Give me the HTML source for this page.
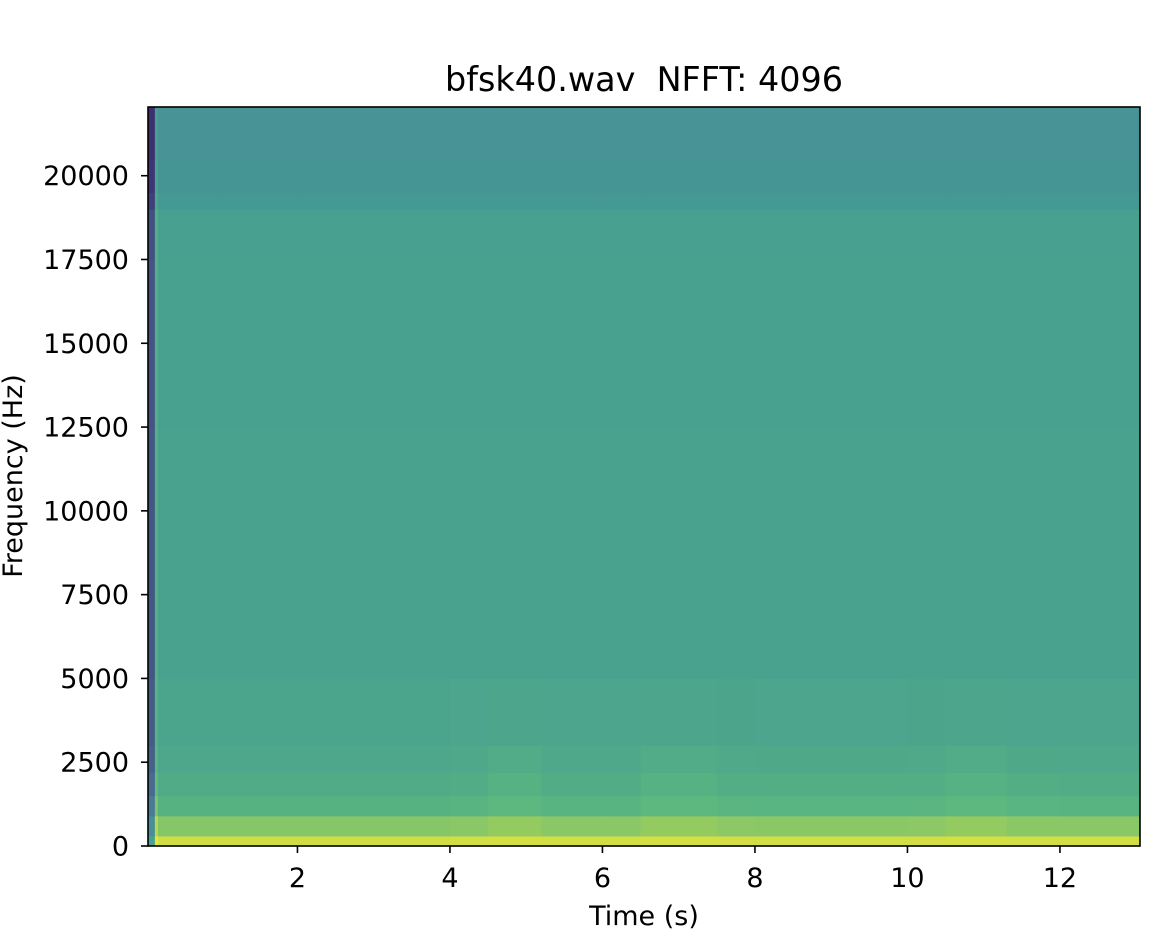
<!DOCTYPE html>
<html><head><meta charset="utf-8"><style>
html,body{margin:0;padding:0;background:#fff;}
svg{display:block;font-family:"DejaVu Sans","Liberation Sans",sans-serif;}
</style></head><body>
<svg id="chart" width="1176" height="942" viewBox="0 0 1176 942">
<text x="644" y="91" font-size="33.4" text-anchor="middle" fill="#000" style="white-space:pre">bfsk40.wav  NFFT: 4096</text>
<g id="cells"></g>
<rect x="148" y="107" width="992" height="739" fill="none" stroke="#000" stroke-width="1.6"/>
<g id="xticks"></g>
<g id="yticks"></g>
<text x="644" y="925" font-size="27" text-anchor="middle">Time (s)</text>
<text transform="translate(22,476) rotate(-90)" font-size="27" text-anchor="middle">Frequency (Hz)</text>
</svg>
<script>
// ---- data ----
const timeEdges = [0.04,0.13,0.17,1,2,3,4,4.5,5.2,6,6.5,7.5,8,9,10,10.5,11.3,12,13.05];
const timeOffset = [-0.4,0.1,0,0,0,0,0,0,0,0,0,0,0,0,0,0,0,0];
const lowBoost = [0,0,0,0,0,0,0.01,0.04,0.01,0.01,0.04,0.02,0.015,0.015,0.02,0.04,0.015,0.01];
const freqEdges = [0,300,900,1500,2200,3000,5000,7500,10000,12500,15000,17500,19000,19500,20500,22050];
const bandLevel = [0.93,0.77,0.66,0.61,0.58,0.56,0.545,0.54,0.54,0.535,0.535,0.525,0.47,0.44,0.42];
const bandWeight = [0.3,0.6,1,1,0.8,0.3,0,0,0,0,0,0,0,0,0];
const xTicks = [2,4,6,8,10,12];
const yTicks = [0,2500,5000,7500,10000,12500,15000,17500,20000];
// ---- axes ----
const X0=148,X1=1140,Y0=846,Y1=107,TMIN=0.04,TMAX=13.05,FMAX=22050;
const xs=t=>X0+(t-TMIN)/(TMAX-TMIN)*(X1-X0);
const ys=f=>Y0-f/FMAX*(Y0-Y1);
const stops=[[0,[59,42,110]],[0.3,[76,134,156]],[0.5,[68,156,146]],[0.7,[92,184,126]],[0.85,[180,214,80]],[1,[232,228,58]]];
function cmap(v){v=Math.max(0,Math.min(1,v));for(let i=1;i<stops.length;i++){if(v<=stops[i][0]){const a=stops[i-1],b=stops[i],k=(v-a[0])/(b[0]-a[0]);return 'rgb('+a[1].map((c,j)=>Math.round(c+(b[1][j]-c)*k)).join(',')+')';}}return 'rgb(232,228,58)';}
const NS='http://www.w3.org/2000/svg';
const cells=document.getElementById('cells');
for(let i=0;i<timeEdges.length-1;i++){for(let b=0;b<freqEdges.length-1;b++){
 const r=document.createElementNS(NS,'rect');
 const x=xs(timeEdges[i]),x2=xs(timeEdges[i+1]),y=ys(freqEdges[b+1]),y2=ys(freqEdges[b]);
 r.setAttribute('x',x);r.setAttribute('y',y);r.setAttribute('width',x2-x+0.5);r.setAttribute('height',y2-y+0.5);
 r.setAttribute('fill',cmap(bandLevel[b]+timeOffset[i]+lowBoost[i]*bandWeight[b]));
 
 
 cells.appendChild(r);}}
const xg=document.getElementById('xticks');
xTicks.forEach(t=>{const x=xs(t);
 const l=document.createElementNS(NS,'line');l.setAttribute('x1',x);l.setAttribute('x2',x);l.setAttribute('y1',846);l.setAttribute('y2',853);l.setAttribute('stroke','#000');l.setAttribute('stroke-width','1.6');
 
 
 xg.appendChild(l);
 const tx=document.createElementNS(NS,'text');tx.setAttribute('x',x);tx.setAttribute('y',887);tx.setAttribute('font-size','27');tx.setAttribute('text-anchor','middle');tx.textContent=t;
 
 
 xg.appendChild(tx);});
const yg=document.getElementById('yticks');
yTicks.forEach(f=>{const y=ys(f);
 const l=document.createElementNS(NS,'line');l.setAttribute('x1',141);l.setAttribute('x2',148);l.setAttribute('y1',y);l.setAttribute('y2',y);l.setAttribute('stroke','#000');l.setAttribute('stroke-width','1.6');
 
 
 yg.appendChild(l);
 const tx=document.createElementNS(NS,'text');tx.setAttribute('x',129);tx.setAttribute('y',y+9.5);tx.setAttribute('font-size','27');tx.setAttribute('text-anchor','end');tx.textContent=f;
 
 
 yg.appendChild(tx);});
</script>
</body></html>
